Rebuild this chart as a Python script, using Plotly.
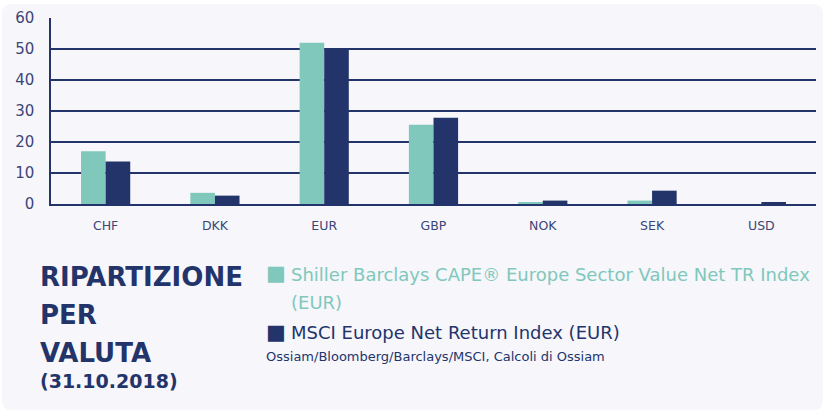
import plotly.graph_objects as go

categories = ["CHF", "DKK", "EUR", "GBP", "NOK", "SEK", "USD"]
shiller = [17.0, 3.6, 52.0, 25.6, 0.4, 1.1, 0.0]
msci = [13.7, 2.7, 50.0, 27.8, 1.1, 4.3, 0.5]
y_ticks = [0, 10, 20, 30, 40, 50, 60]
series_names = ["Shiller Barclays CAPE® Europe Sector Value Net TR Index", "MSCI Europe Net Return Index (EUR)"]
title_lines = ["RIPARTIZIONE", "PER", "VALUTA"]
date_label = "(31.10.2018)"
source_label = "Ossiam/Bloomberg/Barclays/MSCI, Calcoli di Ossiam"

TEAL = "#7fc8bb"
NAVY = "#23346b"
TICK = "#3b4677"
BG = "#f6f6fb"
DV = "DejaVu Sans, sans-serif"

W, H = 826, 412
ML, MR, MT, MB = 51, 10, 18, 208
pw, ph = W - ML - MR, H - MT - MB
def px(x):
    return (x - ML) / pw
def py(y):
    return (H - MB - y) / ph

fig = go.Figure()
fig.add_trace(go.Bar(x=categories, y=shiller, marker_color=TEAL, marker_line_width=0, name=series_names[0]))
fig.add_trace(go.Bar(x=categories, y=msci, marker_color=NAVY, marker_line_width=0, name=series_names[1]))

path = "M %f %f Q %f %f %f %f L %f %f Q %f %f %f %f L %f %f Q %f %f %f %f L %f %f Q %f %f %f %f Z" % (
    px(2), py(14),
    px(2), py(4), px(12), py(4),
    px(813), py(4),
    px(823), py(4), px(823), py(14),
    px(823), py(400),
    px(823), py(410), px(813), py(410),
    px(12), py(410),
    px(2), py(410), px(2), py(400))

fig.update_layout(
    width=W, height=H,
    paper_bgcolor="white", plot_bgcolor=BG,
    margin=dict(l=ML, r=MR, t=MT, b=MB),
    barmode="group", bargap=0.55, bargroupgap=0,
    font=dict(family=DV, color=NAVY),
    showlegend=False,
    xaxis=dict(
        showgrid=False, showline=True, linecolor=NAVY, linewidth=2,
        tickfont=dict(size=12.5, color=TICK, family=DV),
        ticks="", ticklabelstandoff=9,
    ),
    yaxis=dict(
        range=[0, 60], tickvals=y_ticks, showgrid=True, gridcolor=NAVY, gridwidth=1.5,
        showline=True, linecolor=NAVY, linewidth=1.5, zeroline=False,
        tickfont=dict(size=15, color=TICK, family=DV),
        ticks="", ticklabelstandoff=12,
    ),
    shapes=[dict(type="path", xref="paper", yref="paper", layer="below",
                 path=path, line_width=0, fillcolor=BG)],
)

def ann(text, x, y, size, color, bold=False, family=DV):
    fig.add_annotation(text=("<b>%s</b>" % text) if bold else text, xref="paper", yref="paper",
                       x=px(x), y=py(y), xanchor="left", yanchor="middle", showarrow=False,
                       font=dict(family=family, size=size, color=color))

for txt, yy in zip(title_lines, [277, 315, 353]):
    ann(txt, 38, yy, 26, NAVY, bold=True)
ann(date_label, 38, 381, 19, NAVY, bold=True)

# legend entries
ann("■", 264, 273, 21, TEAL)
ann(series_names[0], 289, 274, 18, TEAL)
ann("(EUR)", 289, 302, 18, TEAL)
ann("■", 264, 332, 21, NAVY)
ann(series_names[1], 289, 332, 18, NAVY)
ann(source_label, 264, 356, 13, NAVY)

fig.write_html("out.html", config={"displayModeBar": False},
               post_script="document.body.style.margin='0';document.body.style.padding='0';")
